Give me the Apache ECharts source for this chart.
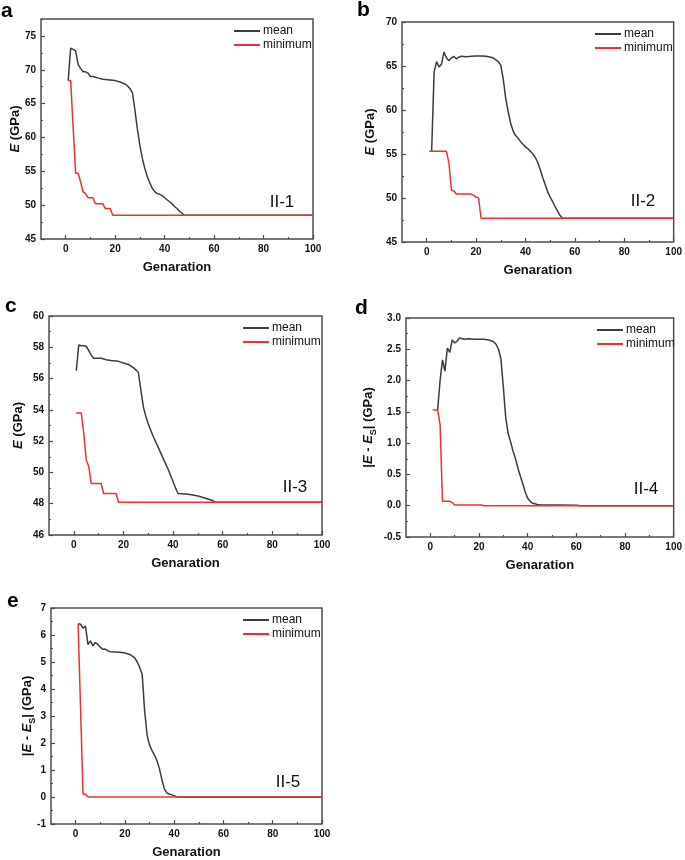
<!DOCTYPE html>
<html><head><meta charset="utf-8">
<script src="https://cdn.jsdelivr.net/npm/echarts@6/dist/echarts.min.js"></script>
<style>html,body{margin:0;padding:0;background:#fff}#c{width:685px;height:860px}</style>
</head><body><div id="c"></div>
<script>
// ---------- data (generation, value) ----------
const meanA = [[1,68.4],[2,73.2],[3,73.0],[4,72.8],[5,70.8],[6,70.2],[7,69.7],[8,69.7],[9,69.5],[10,69.0],[11,69.0],[12,68.9],[13,68.8],[15,68.6],[18,68.5],[20,68.4],[22,68.2],[24,67.9],[25,67.6],[26,67.2],[27,66.6],[28,64.0],[29,61.2],[30,58.8],[31,56.9],[32,55.4],[33,54.2],[34,53.3],[35,52.5],[36,52.0],[37,51.7],[38,51.6],[39,51.4],[40,51.1],[41,50.8],[42,50.5],[43,50.2],[44,49.8],[45,49.5],[46,49.1],[47,48.8],[48,48.5],[100,48.5]];
const minA  = [[1,68.4],[2,68.4],[3,61.5],[4,54.7],[5,54.7],[6,53.5],[7,52.0],[8,51.7],[9,51.1],[10,51.1],[11,51.1],[12,50.2],[13,50.2],[14,50.2],[15,50.2],[16,49.5],[17,49.5],[18,49.5],[19,48.5],[100,48.5]];

const meanB = [[2,55.3],[3,64.3],[4,65.5],[5,64.9],[6,65.2],[7,66.6],[8,65.9],[9,65.6],[10,65.9],[11,66.1],[12,65.8],[13,66.0],[14,66.1],[16,66.05],[18,66.1],[20,66.15],[22,66.15],[24,66.1],[26,66.0],[27,65.9],[28,65.7],[29,65.5],[30,65.1],[31,63.5],[32,61.3],[33,59.8],[34,58.5],[35,57.6],[36,57.1],[37,56.8],[38,56.4],[39,56.1],[40,55.8],[41,55.6],[42,55.3],[43,55.0],[44,54.6],[45,54.0],[46,53.2],[47,52.3],[48,51.5],[49,50.7],[50,50.1],[51,49.6],[52,49.0],[53,48.5],[54,48.0],[55,47.7],[100,47.7]];
const minB  = [[1,55.3],[8,55.3],[9,54.0],[10,50.9],[11,50.8],[12,50.45],[18,50.45],[19,50.3],[20,50.1],[21,50.0],[22,47.7],[100,47.7]];

const meanC = [[1,56.5],[2,58.15],[3,58.1],[4,58.1],[5,58.05],[6,57.8],[7,57.5],[8,57.3],[9,57.3],[10,57.3],[11,57.3],[12,57.25],[13,57.2],[15,57.15],[18,57.1],[20,57.0],[22,56.9],[24,56.7],[26,56.4],[27,55.3],[28,54.2],[29,53.6],[30,53.1],[32,52.3],[34,51.6],[36,50.9],[38,50.2],[39,49.8],[40,49.4],[41,49.0],[42,48.65],[46,48.6],[48,48.55],[50,48.5],[52,48.4],[54,48.3],[56,48.2],[57,48.1],[100,48.1]];
const minC  = [[1,53.8],[3,53.8],[4,52.5],[5,50.8],[6,50.4],[7,49.3],[11,49.3],[12,48.65],[17,48.65],[18,48.1],[100,48.1]];

const meanD = [[3,1.53],[4,2.0],[5,2.33],[6,2.15],[7,2.52],[8,2.45],[9,2.65],[10,2.6],[11,2.63],[12,2.68],[14,2.66],[16,2.67],[18,2.66],[20,2.66],[22,2.66],[24,2.65],[26,2.62],[27,2.58],[28,2.5],[29,2.35],[30,1.9],[31,1.4],[32,1.15],[33,1.02],[34,0.87],[35,0.75],[36,0.6],[37,0.47],[38,0.35],[39,0.22],[40,0.12],[41,0.07],[42,0.04],[43,0.03],[44,0.02],[45,0.015],[60,0.008],[62,0.0],[100,0.0]];
const minD  = [[1,1.53],[3,1.53],[4,1.3],[5,0.07],[8,0.07],[9,0.05],[10,0.01],[21,0.01],[22,0.0],[100,0.0]];

const meanE = [[1,6.42],[2,6.4],[3,6.25],[4,6.33],[5,5.65],[6,5.78],[7,5.6],[8,5.72],[9,5.65],[10,5.55],[11,5.47],[12,5.48],[13,5.42],[14,5.38],[16,5.37],[18,5.36],[20,5.33],[22,5.28],[23,5.22],[24,5.15],[25,5.0],[26,4.8],[27,4.55],[28,3.2],[29,2.3],[30,1.92],[31,1.72],[32,1.55],[33,1.35],[34,1.05],[35,0.65],[36,0.3],[37,0.15],[38,0.11],[39,0.08],[40,0.05],[41,0.01],[42,0],[100,0]];
const minE  = [[1,6.42],[2,3.3],[3,0.1],[4,0.1],[5,0.0],[100,0.0]];

// ---------- tick values ----------
const xTicks = [0,20,40,60,80,100];
const xMinorTicks = [10,30,50,70,90];
const yTicksA = [45,50,55,60,65,70,75];
const yMinorA = [47.5,52.5,57.5,62.5,67.5,72.5,77.5];
const yTicksB = [45,50,55,60,65,70];
const yMinorB = [47.5,52.5,57.5,62.5,67.5];
const yTicksC = [46,48,50,52,54,56,58,60];
const yMinorC = [47,49,51,53,55,57,59];
const yTicksD = [-0.5,0,0.5,1,1.5,2,2.5,3];
const yMinorD = [-0.25,0.25,0.75,1.25,1.75,2.25,2.75];
const yTicksE = [-1,0,1,2,3,4,5,6,7];
const yMinorE = [-0.5,0.5,1.5,2.5,3.5,4.5,5.5,6.5];

const seriesNames = ['mean','minimum'];
const tags = ['II-1','II-2','II-3','II-4','II-5'];
const letters = ['a','b','c','d','e'];
const xTitle = 'Genaration';

// ---------- layout / style ----------
const FF = "'Liberation Sans', Arial, sans-serif";
const AX = '#4d4d4d';
const MEAN_C = '#3c3c3c';
const MIN_C = '#ee3030';

const panels = [
  {grid:{left:41,top:19,width:272,height:220}, ymin:45, ymax:77.5, yt:yTicksA, ym:yMinorA, mean:meanA, min:minA, ynameGap:16, abs:false, dec:0,
   tag:[282,202], letter:[1,11]},
  {grid:{left:402,top:22,width:272,height:220}, ymin:45, ymax:70, yt:yTicksB, ym:yMinorB, mean:meanB, min:minB, ynameGap:22, abs:false, dec:0,
   tag:[643,201], letter:[357,10]},
  {grid:{left:49,top:316,width:273,height:219}, ymin:46, ymax:60, yt:yTicksC, ym:yMinorC, mean:meanC, min:minC, ynameGap:21, abs:false, dec:0,
   tag:[295,487], letter:[5,306]},
  {grid:{left:406,top:318,width:270,height:219}, ymin:-0.5, ymax:3, yt:yTicksD, ym:yMinorD, mean:meanD, min:minD, ynameGap:28, abs:true, dec:1,
   tag:[646,489], letter:[355,308]},
  {grid:{left:51,top:608,width:271,height:219}, ymin:-1, ymax:7, yt:yTicksE, ym:yMinorE, mean:meanE, min:minE, ynameGap:14, abs:true, dec:0,
   tag:[288,782], letter:[7,601]}
];

const grids=[], xAxes=[], yAxes=[], series=[], legends=[], graphics=[];
panels.forEach((p,i)=>{
  grids.push(Object.assign({show:true, borderColor:AX, borderWidth:1.5, backgroundColor:'transparent'}, p.grid));
  const tickStyle = {color:AX, width:1.2};
  const noLine = {show:false, onZero:false};
  xAxes.push({gridIndex:i, type:'value', position:'bottom', min:-10, max:100,
    axisLine:noLine, splitLine:{show:false},
    axisTick:{show:true, inside:true, length:4, customValues:xTicks, lineStyle:tickStyle},
    axisLabel:{customValues:xTicks, margin:5, color:'#111', fontSize:10, fontWeight:'bold', fontFamily:FF},
    name:xTitle, nameLocation:'middle', nameGap:22, nameMoveOverlap:false,
    nameTextStyle:{color:'#111', fontSize:13, fontWeight:'bold', fontFamily:FF}});
  xAxes.push({gridIndex:i, type:'value', position:'bottom', min:-10, max:100,
    axisLine:noLine, splitLine:{show:false},
    axisTick:{show:true, inside:true, length:2, customValues:xMinorTicks, lineStyle:tickStyle},
    axisLabel:{show:false}});
  const rich = {
    i:{fontStyle:'italic', fontWeight:'bold', fontSize:13, fontFamily:FF, color:'#111', lineHeight:20},
    s:{fontWeight:'bold', fontSize:9, fontFamily:FF, color:'#111', verticalAlign:'bottom', lineHeight:20}
  };
  yAxes.push({gridIndex:i, type:'value', position:'left', min:p.ymin, max:p.ymax,
    axisLine:noLine, splitLine:{show:false},
    axisTick:{show:true, inside:true, length:4, customValues:p.yt, lineStyle:tickStyle},
    axisLabel:{customValues:p.yt, margin:5, color:'#111', fontSize:10, fontWeight:'bold', fontFamily:FF,
      formatter:(v)=>Number(v).toFixed(p.dec)},
    name: p.abs ? '|{i|E} - {i|E}{s|S}| (GPa)' : '{i|E} (GPa)',
    nameLocation:'middle', nameGap:p.ynameGap, nameRotate:90, nameMoveOverlap:false,
    nameTextStyle:{color:'#111', fontSize:13, fontWeight:'bold', fontFamily:FF, lineHeight:20, rich}});
  yAxes.push({gridIndex:i, type:'value', position:'left', min:p.ymin, max:p.ymax,
    axisLine:noLine, splitLine:{show:false},
    axisTick:{show:true, inside:true, length:2, customValues:p.ym, lineStyle:tickStyle},
    axisLabel:{show:false}});
  series.push({type:'line', name:seriesNames[0], xAxisIndex:2*i, yAxisIndex:2*i, data:p.mean, symbol:'none',
    lineStyle:{color:MEAN_C, width:1.5}, itemStyle:{color:MEAN_C}, z:2});
  series.push({type:'line', name:seriesNames[1], xAxisIndex:2*i, yAxisIndex:2*i, data:p.min, symbol:'none',
    lineStyle:{color:MIN_C, width:1.5}, itemStyle:{color:MIN_C}, z:3});
  legends.push({data:seriesNames, orient:'vertical', left:p.grid.left+p.grid.width-79, top:p.grid.top+5, padding:0,
    icon:'rect', itemWidth:26, itemHeight:2, itemGap:0, selectedMode:false,
    textStyle:{fontSize:12, lineHeight:14, color:'#111', fontFamily:FF, padding:[0,0,0,-2]}});
  graphics.push({type:'text', x:p.tag[0], y:p.tag[1],
    style:{text:tags[i], font:"17px "+FF, fill:'#111', align:'center', verticalAlign:'middle'}});
  graphics.push({type:'text', x:p.letter[0], y:p.letter[1],
    style:{text:letters[i], font:"bold 21px "+FF, fill:'#000', align:'left', verticalAlign:'middle'}});
});

const chart = echarts.init(document.getElementById('c'), null, {renderer:'canvas'});
chart.setOption({
  animation:false,
  backgroundColor:'#fff',
  grid:grids, xAxis:xAxes, yAxis:yAxes, series, legend:legends, graphic:graphics
});
</script></body></html>
